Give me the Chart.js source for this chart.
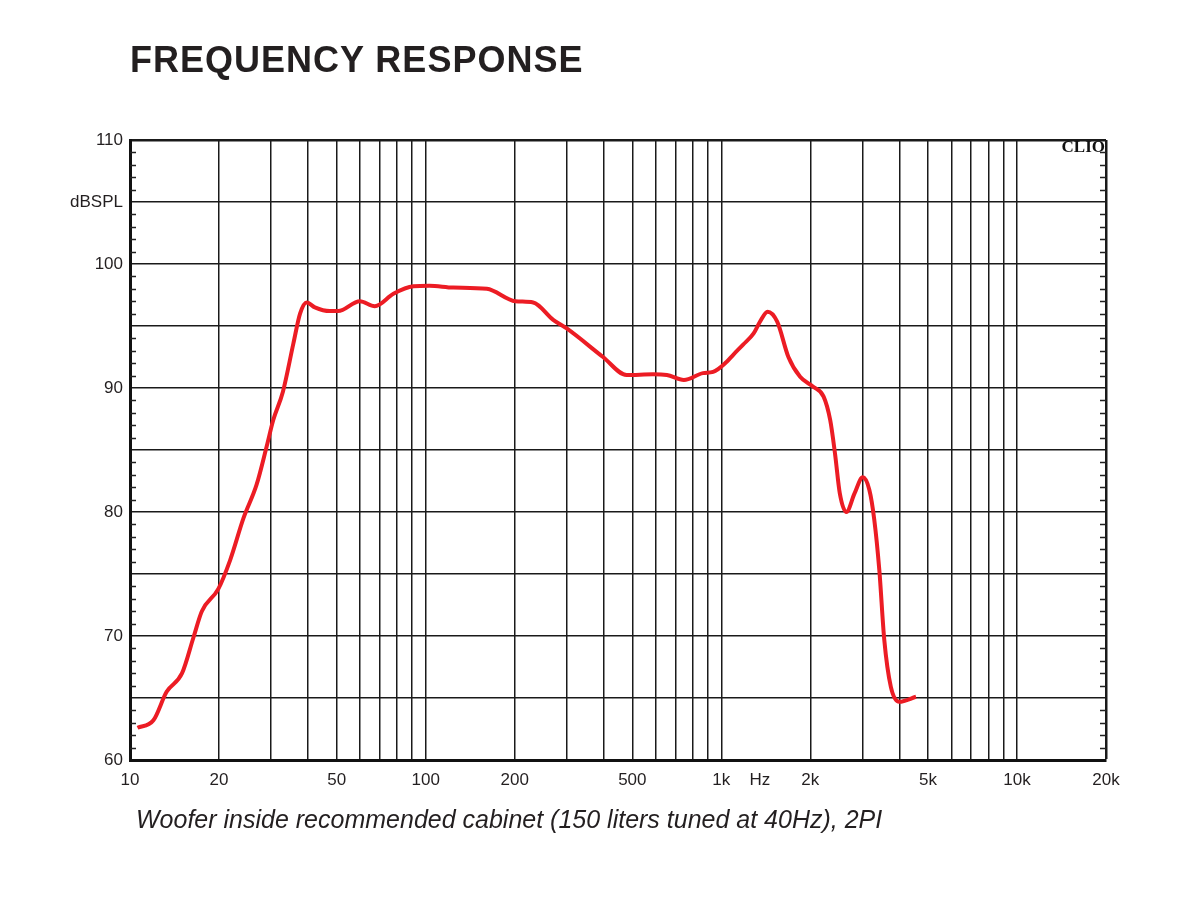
<!DOCTYPE html>
<html>
<head>
<meta charset="utf-8">
<script src="https://cdn.jsdelivr.net/npm/chart.js@4.4.1/dist/chart.umd.min.js"></script>
<style>
  body { margin: 0; background: #fff; }
  #wrap { position: relative; width: 1200px; height: 900px; background: #fff; }
  #chart { position: absolute; left: 0; top: 0; }
  .title { position: absolute; left: 130px; top: 42px; font: bold 36px "Liberation Sans", Arial, sans-serif; line-height: 36px; letter-spacing: 1px; color: #231f20; white-space: nowrap; }
  .note { position: absolute; left: 136px; top: 805px; font: italic 25px "Liberation Sans", Arial, sans-serif; line-height: 28px; color: #231f20; white-space: nowrap; }
  .clio { position: absolute; right: 95px; top: 137px; font: bold 17px "Liberation Serif", "DejaVu Serif", serif; color: #111; }
</style>
</head>
<body>
<div id="wrap">
  <canvas id="chart" width="1200" height="900"></canvas>
  <div class="title">FREQUENCY RESPONSE</div>
  <div class="clio">CLIO</div>
  <div class="note">Woofer inside recommended cabinet (150 liters tuned at 40Hz), 2PI</div>
</div>
<script>
// Frequency response (Hz, dBSPL)
var freq = [10.6, 12.0, 13.3, 15.0, 16.4, 17.5, 19.9, 21.8, 24.2, 26.8, 29.0, 30.5, 32.9, 35.7, 37.6, 39.6,
            42.2, 47.4, 50.6, 59.9, 67.3, 77.8, 90.9, 103, 124, 161, 201, 231, 270, 300, 398, 478,
            588, 654, 747, 867, 938, 1041, 1099, 1185, 1286, 1348, 1434, 1545, 1686, 1847, 2045, 2218,
            2335, 2424, 2516, 2647, 2822, 3008, 3166, 3290, 3423, 3557, 3744, 3998, 4555];
var spl = [62.6, 63.2, 65.5, 67.0, 69.9, 72.0, 73.8, 76.1, 79.5, 82.2, 85.3, 87.4, 89.7, 93.6, 96.0, 96.9,
           96.5, 96.2, 96.2, 97.0, 96.6, 97.6, 98.2, 98.25, 98.1, 98.0, 97.0, 96.9, 95.5, 94.8, 92.5, 91.05,
           91.1, 91.05, 90.65, 91.2, 91.3, 92.1, 92.7, 93.5, 94.4, 95.3, 96.15, 95.35, 92.5, 90.9, 90.1, 89.3,
           87.4, 84.7, 81.5, 80.0, 81.5, 82.8, 81.8, 79.4, 75.3, 69.7, 65.9, 64.7, 65.1];

// grid lines / tick labels
var xTicks = [10, 20, 30, 40, 50, 60, 70, 80, 90, 100, 200, 300, 400, 500, 600, 700, 800, 900,
              1000, 1350, 2000, 3000, 4000, 5000, 6000, 7000, 8000, 9000, 10000, 20000];
var xLabels = {10: '10', 20: '20', 50: '50', 100: '100', 200: '200', 500: '500', 1000: '1k',
               1350: 'Hz', 2000: '2k', 5000: '5k', 10000: '10k', 20000: '20k'};
var yTicks = [60, 65, 70, 75, 80, 85, 90, 95, 100, 105, 110];
var yLabels = {60: '60', 70: '70', 80: '80', 90: '90', 100: '100', 105: 'dBSPL', 110: '110'};

var points = freq.map(function (f, i) { return { x: f, y: spl[i] }; });

// short 1 dB marks on left and right frame edges
var minorTicks = {
    id: 'minorTicks',
    afterDraw: function (chart) {
        var ctx = chart.ctx;
        var y = chart.scales.y;
        var area = chart.chartArea;
        ctx.save();
        ctx.strokeStyle = '#222';
        ctx.lineWidth = 1.5;
        for (var v = 61; v < 110; v++) {
            if (v % 5 === 0) continue;
            var py = Math.round(y.getPixelForValue(v)) + 0.5;
            ctx.beginPath();
            ctx.moveTo(area.left, py); ctx.lineTo(area.left + 6, py);
            ctx.moveTo(area.right - 6, py); ctx.lineTo(area.right, py);
            ctx.stroke();
        }
        ctx.restore();
    }
};

new Chart(document.getElementById('chart').getContext('2d'), {
    type: 'line',
    data: {
        datasets: [{
            data: points,
            borderColor: '#ec1c24',
            borderWidth: 4,
            pointRadius: 0,
            cubicInterpolationMode: 'monotone',
            fill: false
        }]
    },
    options: {
        responsive: false,
        animation: false,
        layout: { padding: { left: 0, right: 94, top: 140, bottom: 0 } },
        plugins: { legend: { display: false }, tooltip: { enabled: false } },
        scales: {
            x: {
                type: 'logarithmic',
                min: 10,
                max: 20000,
                afterBuildTicks: function (scale) {
                    scale.ticks = xTicks.map(function (v) { return { value: v }; });
                },
                afterFit: function (scale) { scale.height = 140; },
                grid: {
                    drawTicks: false,
                    color: function (c) { return c.tick && c.tick.value === 1350 ? 'rgba(0,0,0,0)' : '#1a1a1a'; },
                    lineWidth: function (c) { return c.tick && c.tick.value === 20000 ? 2.5 : 1.5; }
                },
                border: { display: true, color: '#111', width: 3 },
                ticks: {
                    autoSkip: false,
                    maxRotation: 0,
                    padding: 10,
                    color: '#231f20',
                    font: { family: '"Liberation Sans", Arial, sans-serif', size: 17 },
                    callback: function (v) { return xLabels[v] || ''; }
                }
            },
            y: {
                min: 60,
                max: 110,
                afterBuildTicks: function (scale) {
                    scale.ticks = yTicks.map(function (v) { return { value: v }; });
                },
                afterFit: function (scale) { scale.width = 130; },
                grid: {
                    drawTicks: false,
                    color: '#1a1a1a',
                    lineWidth: function (c) { return c.tick && c.tick.value === 110 ? 2.5 : 1.5; }
                },
                border: { display: true, color: '#111', width: 3 },
                ticks: {
                    padding: 7,
                    color: '#231f20',
                    font: { family: '"Liberation Sans", Arial, sans-serif', size: 17 },
                    callback: function (v) { return yLabels[v] || ''; }
                }
            }
        }
    },
    plugins: [minorTicks]
});
</script>
</body>
</html>
